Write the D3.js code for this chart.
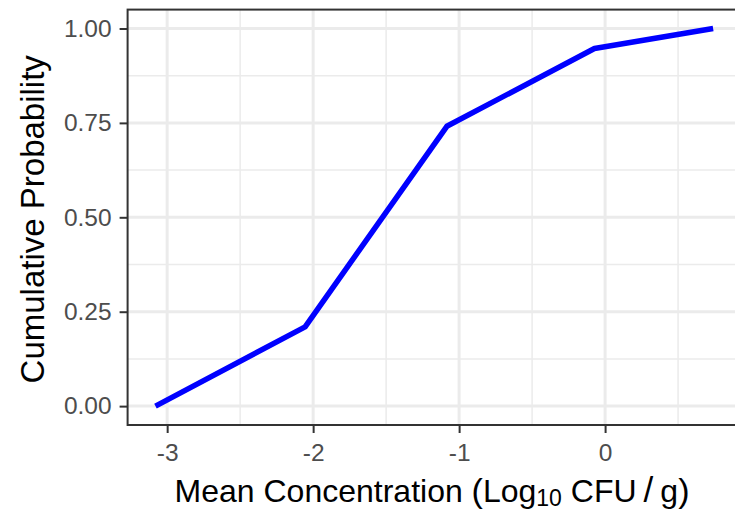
<!DOCTYPE html>
<html>
<head>
<meta charset="utf-8">
<script src="https://cdn.jsdelivr.net/npm/d3@7"></script>
<style>
  body { margin: 0; background: #fff; }
  svg { display: block; font-family: "Liberation Sans", Arial, sans-serif; }
</style>
</head>
<body>
<div id="app"></div>
<script>
// data
const concentration = [-3.08, -2.055, -1.084, -0.073, 0.74];
const cumProb = [0, 0.21, 0.741, 0.947, 1.0];
const xTicks = [-3, -2, -1, 0];
const xMinor = [-2.5, -1.5, -0.5, 0.5];
const yTicks = [0, 0.25, 0.5, 0.75, 1.0];
const yMinor = [0.125, 0.375, 0.625, 0.875];

const width = 735, height = 511;
const panel = { left: 127.6, right: 741, top: 9.6, bottom: 425 };

const svg = d3.select('#app')
  .append('svg')
  .attr('width', width)
  .attr('height', height);

// ggplot-style 5% expansion
const xr = d3.extent(concentration);
const xPad = (xr[1] - xr[0]) * 0.05;
const x = d3.scaleLinear()
  .domain([xr[0] - xPad, xr[1] + xPad])
  .range([panel.left, panel.right]);

const y = d3.scaleLinear()
  .domain([-0.05, 1.05])
  .range([panel.bottom, panel.top]);

const grid = svg.append('g');

grid.selectAll('line.xminor')
  .data(xMinor)
  .join('line')
  .attr('class', 'xminor')
  .attr('x1', (d) => x(d)).attr('x2', (d) => x(d))
  .attr('y1', panel.top).attr('y2', panel.bottom)
  .attr('stroke', '#ebebeb').attr('stroke-width', 1.5);

grid.selectAll('line.yminor')
  .data(yMinor)
  .join('line')
  .attr('class', 'yminor')
  .attr('y1', (d) => y(d)).attr('y2', (d) => y(d))
  .attr('x1', panel.left).attr('x2', panel.right)
  .attr('stroke', '#ebebeb').attr('stroke-width', 1.5);

grid.selectAll('line.xmajor')
  .data(xTicks)
  .join('line')
  .attr('class', 'xmajor')
  .attr('x1', (d) => x(d)).attr('x2', (d) => x(d))
  .attr('y1', panel.top).attr('y2', panel.bottom)
  .attr('stroke', '#ebebeb').attr('stroke-width', 3);

grid.selectAll('line.ymajor')
  .data(yTicks)
  .join('line')
  .attr('class', 'ymajor')
  .attr('y1', (d) => y(d)).attr('y2', (d) => y(d))
  .attr('x1', panel.left).attr('x2', panel.right)
  .attr('stroke', '#ebebeb').attr('stroke-width', 3);

// the curve
const line = d3.line()
  .x((d, i) => x(concentration[i]))
  .y((d) => y(d));

svg.append('path')
  .datum(cumProb)
  .attr('d', line)
  .attr('fill', 'none')
  .attr('stroke', '#0000ff')
  .attr('stroke-width', 5.5)
  .attr('stroke-linejoin', 'round');

// panel border
svg.append('rect')
  .attr('x', panel.left)
  .attr('y', panel.top)
  .attr('width', panel.right - panel.left)
  .attr('height', panel.bottom - panel.top)
  .attr('fill', 'none')
  .attr('stroke', '#333333')
  .attr('stroke-width', 2);

// axes
const xAxis = d3.axisBottom(x)
  .tickValues(xTicks)
  .tickFormat((d) => String(d))
  .tickSize(8)
  .tickPadding(11);

const yAxis = d3.axisLeft(y)
  .tickValues(yTicks)
  .tickFormat(d3.format('.2f'))
  .tickSize(8)
  .tickPadding(8);

const gx = svg.append('g')
  .attr('transform', `translate(0,${panel.bottom})`)
  .call(xAxis);

const gy = svg.append('g')
  .attr('transform', `translate(${panel.left},0)`)
  .call(yAxis);

[gx, gy].forEach((g) => {
  g.select('.domain').remove();
  g.selectAll('.tick line').attr('stroke', '#333333').attr('stroke-width', 2);
  g.selectAll('.tick text')
    .attr('fill', '#4d4d4d')
    .attr('font-size', 24.5)
    .attr('font-family', '"Liberation Sans", Arial, sans-serif');
});

// axis titles
const xTitle = svg.append('text')
  .attr('x', 432)
  .attr('y', 502)
  .attr('text-anchor', 'middle')
  .attr('font-size', 32)
  .attr('fill', '#000');

xTitle.append('tspan').text('Mean Concentration ');
xTitle.append('tspan').attr('font-size', 34).text('(');
xTitle.append('tspan').text('Log');
xTitle.append('tspan').attr('font-size', 23).attr('dy', 4).text('10');
xTitle.append('tspan').attr('dy', -4).text(' CFU');
xTitle.append('tspan').attr('font-size', 35).text('\u2009/\u2009');
xTitle.append('tspan').text('g');
xTitle.append('tspan').attr('font-size', 34).text(')');

svg.append('text')
  .attr('transform', `translate(44,${(panel.top + panel.bottom) / 2 + 2}) rotate(-90)`)
  .attr('text-anchor', 'middle')
  .attr('font-size', 33)
  .attr('fill', '#000')
  .text('Cumulative Probability');
</script>
</body>
</html>
